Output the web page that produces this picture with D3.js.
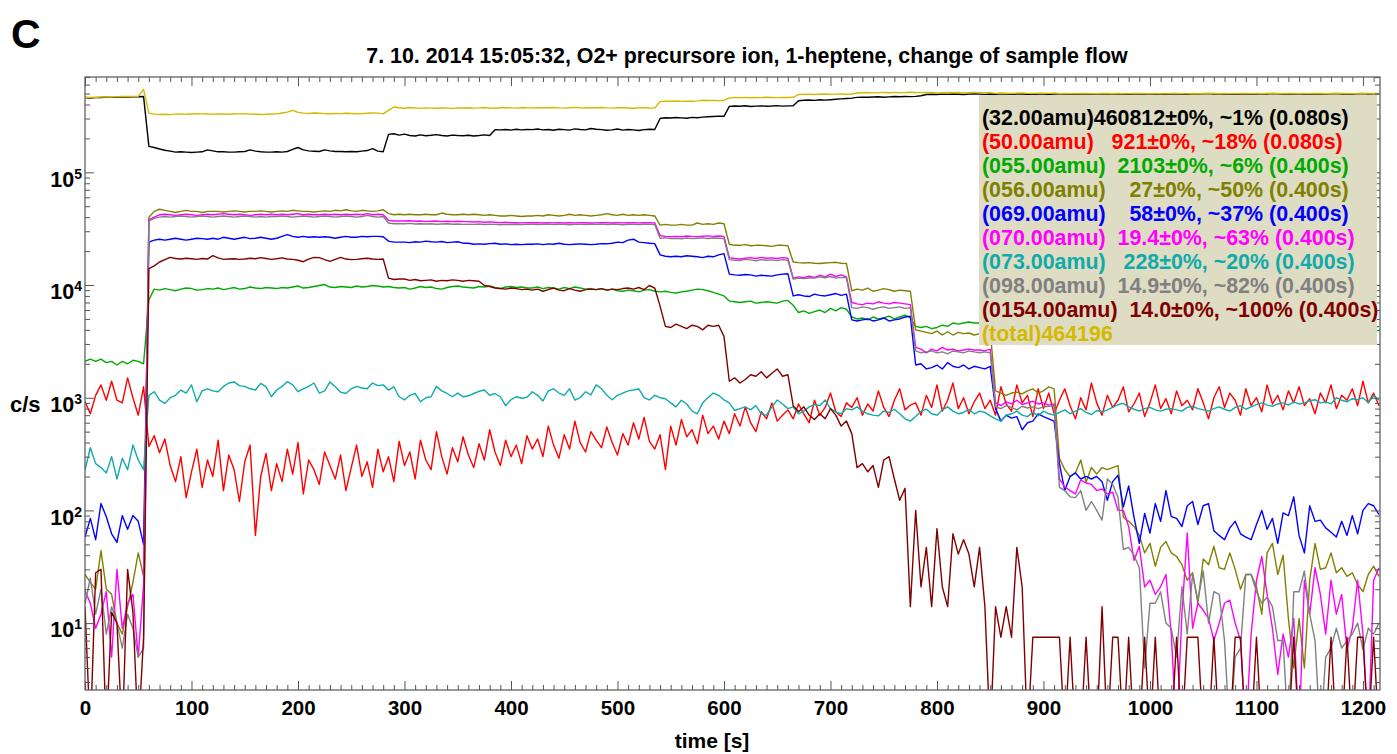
<!DOCTYPE html>
<html>
<head>
<meta charset="utf-8">
<script src="https://cdn.jsdelivr.net/npm/d3@7"></script>
<style>
  html, body { margin: 0; padding: 0; background: #fff; }
  svg { display: block; font-family: "Liberation Sans", Arial, Helvetica, sans-serif; font-weight: bold; }
</style>
</head>
<body>
<svg id="chart" width="1397" height="754"></svg>
<script>
// PTR-MS scan, one sample every 5 s (rows below = one minute each)
const SAMPLE_PERIOD_S = 5;

const mz32 = [
  460812, 457000, 460000, 461000, 463000, 462000, 465000, 466000, 466000, 468000, 468000, 470000,
  170000, 166000, 161000, 157000, 154000, 151000, 152000, 151000, 150000, 151000, 152000, 158000,
  155000, 152000, 152000, 151000, 151000, 152000, 153000, 158000, 154000, 152000, 151000, 151000,
  152000, 151000, 153000, 160000, 166000, 158000, 155000, 154000, 153000, 158000, 155000, 153000,
  153000, 152000, 153000, 152000, 154000, 156000, 162000, 154000, 152000, 217000, 220000, 214000,
  218000, 212000, 210000, 215000, 211000, 213000, 216000, 212000, 210000, 214000, 212000, 211000,
  213000, 210000, 212000, 215000, 212000, 239000, 238000, 240000, 237000, 241000, 238000, 240000,
  239000, 242000, 238000, 240000, 236000, 241000, 239000, 237000, 243000, 240000, 238000, 245000,
  241000, 239000, 236000, 238000, 242000, 237000, 240000, 238000, 235000, 239000, 241000, 240000,
  300000, 305000, 303000, 306000, 304000, 302000, 307000, 305000, 309000, 311000, 313000, 315000,
  314000, 385000, 388000, 386000, 390000, 384000, 387000, 389000, 386000, 388000, 391000, 387000,
  389000, 390000, 432000, 436000, 438000, 435000, 440000, 437000, 441000, 445000, 448000, 452000,
  455000, 462000, 465000, 463000, 466000, 468000, 464000, 467000, 470000, 468000, 471000, 469000,
  472000, 478000, 490000, 493000, 491000, 494000, 492000, 495000, 493000, 491000, 494000, 496000,
  494000, 492000, 495000, 493000, 497000, 494000, 492000, 495000, 496000, 493000, 491000, 494000,
  495000, 493000, 496000, 494000, 497000, 495000, 493000, 496000, 498000, 495000, 494000, 497000,
  496000, 494000, 497000, 495000, 493000, 496000, 498000, 495000, 494000, 497000, 495000, 493000,
  496000, 498000, 495000, 493000, 496000, 494000, 497000, 499000, 496000, 494000, 497000, 495000,
  493000, 496000, 498000, 495000, 497000, 494000, 496000, 499000, 497000, 495000, 498000, 496000,
  494000, 497000, 495000, 498000, 496000, 494000, 497000, 499000, 496000, 498000, 495000, 497000,
  499000, 496000, 498000, 497000
];

const mz50 = [
  921, 720, 1050, 1300, 950, 1400, 950, 900, 1500, 1000, 700, 1250,
  370, 460, 325, 430, 250, 180, 300, 130, 220, 350, 160, 280,
  200, 420, 150, 310, 230, 120, 270, 380, 60, 200, 320, 150,
  260, 180, 350, 210, 400, 140, 280, 230, 170, 330, 250, 190,
  310, 150, 240, 380, 200, 270, 160, 350, 220, 300, 180, 410,
  250, 330, 190, 420, 280, 230, 500, 300, 210, 360, 270, 450,
  310, 240, 390, 280, 520, 330, 250, 420, 300, 380, 260, 460,
  350, 430, 300, 560, 380, 290, 470, 350, 620, 400, 330, 500,
  420, 360, 550, 400, 310, 480, 380, 600, 430, 670, 410, 350,
  470, 230, 560, 380, 640, 450, 520, 390, 700, 480, 560, 430,
  620, 480, 720, 560, 830, 600, 500, 750, 650, 900, 620, 700,
  780, 650, 880, 720, 600, 950, 700, 820, 1100, 750, 680, 900,
  820, 1000, 700, 880, 760, 1150, 820, 680, 950, 1200, 780, 860,
  900, 700, 1050, 820, 1300, 760, 950, 1350, 800, 1000, 720, 920,
  1100, 800, 950, 700, 1250, 880, 760, 1300, 900, 1050, 680, 1200,
  800, 1100, 720, 950, 1200, 850, 650, 1000, 780, 1350, 900, 700,
  1050, 820, 950, 1250, 750, 880, 1100, 680, 900, 1300, 800, 980,
  720, 1150, 850, 950, 780, 1200, 900, 650, 1000, 1250, 820, 1100,
  950, 700, 1200, 850, 1000, 750, 1300, 880, 1050, 780, 1150, 900,
  1250, 850, 980, 720, 1100, 900, 1300, 800, 1050, 950, 1200, 850,
  1400, 900, 1100, 850
];

const mz55 = [
  2103, 2200, 2100, 2200, 2050, 2100, 1950, 2100, 2000, 2150, 2100, 2000,
  7400, 9200, 9000, 9300, 9100, 8900, 9200, 9400, 9300, 9000, 9100, 9300,
  9200, 9400, 9100, 9300, 9500, 9200, 9300, 9600, 9400, 9300, 9500, 9400,
  9300, 9500, 9400, 9600, 9800, 9400, 9500, 9700, 9900, 10100, 9600, 9500,
  9700, 9600, 9500, 9800, 9600, 9700, 9900, 9800, 9600, 9700, 9500, 9400,
  9500, 9200, 9400, 9700, 9500, 9600, 9300, 9200, 9500, 9700, 9800, 9600,
  9500, 9400, 9700, 9600, 9800, 9500, 9300, 9600, 9700, 9500, 9600, 9400,
  9400, 9600, 9300, 9500, 9400, 9200, 9500, 9300, 9600, 9400, 9200, 9300,
  9100, 9300, 9000, 9200, 8900, 8800, 9000, 8900, 8700, 9000, 9100, 8800,
  8700, 8800, 8600, 8500, 8700, 8800, 9000, 9200, 9100, 8900, 8600, 8300,
  8000, 7200, 7100, 7000, 7100, 7200, 6900, 7000, 7100, 7000, 6900, 7200,
  7300, 6600, 5700, 5900, 5600, 5800, 6000, 5700, 6200, 5900, 6300, 6100,
  5200, 5000, 5100, 4900, 5200, 5000, 5100, 5300, 5000, 5200, 5400, 5100,
  4300, 4200, 4300, 4100, 4200, 4400, 4300, 4600, 4500, 4600, 4700, 4600,
  4600, 4500, 4700, 4600, 4400, 4500, 4700, 4600, 4500, 4400, 4600, 4500,
  4400, 4500, 4300, 4400, 4600, 4500, 4300, 4200, 4400, 4500, 4300, 4400,
  4300, 4400, 4200, 4300, 4500, 4400, 4200, 4300, 4400, 4200, 4300, 4400,
  4200, 4300, 4400, 4200, 4300, 4100, 4300, 4400, 4200, 4300, 4200, 4100,
  4300, 4200, 4100, 4300, 4200, 4400, 4300, 4200, 4100, 4300, 4200, 4300,
  4200, 4100, 4300, 4200, 4400, 4300, 4200, 4100, 4300, 4200, 4300, 4200,
  4100, 4300, 4200, 4300
];

const mz56 = [
  27, 23, 20, 44, 20, 18, 10, 8, 14, 23, 42, 26,
  40000, 45000, 47000, 46000, 45000, 44000, 45000, 46000, 45000, 45000, 44000, 45000,
  45000, 45000, 44500, 45000, 45500, 45000, 44500, 45000, 45000, 45500, 45000, 44500,
  45000, 45500, 45000, 46000, 45500, 45000, 45000, 44500, 45000, 45500, 45000, 46000,
  45500, 46500, 45500, 45000, 46000, 45500, 45000, 45500, 46500, 43000, 42000, 42500,
  42000, 42500, 42000, 42000, 42500, 42000, 42000, 43500, 42500, 42000, 42000, 42500,
  42000, 42500, 42000, 41500, 42000, 41500, 41000, 41000, 41500, 41000, 40500, 41000,
  41000, 41500, 41000, 42000, 41500, 41000, 41500, 42500, 41500, 42000, 41500, 41000,
  41500, 42000, 43000, 42000, 41500, 42500, 41500, 42000, 41500, 42000, 41500, 41000,
  34000, 34500, 34000, 34000, 34500, 34000, 34000, 35500, 34500, 35000, 34500, 35500,
  35000, 23000, 22500, 22500, 22800, 22300, 22500, 22500, 22300, 22000, 22500, 22500,
  22300, 16000, 15800, 15700, 15800, 15600, 15500, 15700, 15800, 15900, 15600, 15500,
  8900, 9200, 9000, 9400, 8800, 9000, 9300, 9100, 8800, 9000, 8900, 8800,
  4000, 3900, 3800, 3700, 3900, 3600, 3850, 3600, 3800, 3700, 3750, 3600,
  3700, 3600, 3900, 1150, 1100, 1050, 1100, 1120, 1080, 1150, 1200, 1100,
  1150, 1250, 1200, 290, 230, 200, 215, 280, 178, 240, 210, 240,
  230, 240, 250, 87, 80, 72, 60, 42, 51, 32, 47, 53,
  42, 39, 33, 24, 28, 15, 37, 33, 48, 31, 30, 42,
  30, 20, 27, 27, 21, 12, 42, 51, 27, 40, 11, 4,
  11, 4, 24, 51, 30, 31, 42, 28, 31, 26, 28, 22,
  19, 27, 32, 26
];

const mz69 = [
  58, 85, 55, 115, 88, 62, 52, 90, 68, 90, 80, 50,
  24000, 25000, 25500, 25000, 25500, 26000, 25500, 25000, 25500, 26000, 25800, 25500,
  26000, 25500, 26500, 26000, 25500, 26000, 26500, 25800, 26000, 26500, 26000, 25500,
  26000, 27000, 28000, 27000, 26500, 27000, 26500, 26800, 26500, 26800, 26500, 26000,
  26500, 27000, 26500, 26500, 27000, 26800, 27000, 27000, 26800, 24500, 24000, 24000,
  24000, 23800, 24200, 24000, 24500, 24200, 24000, 24300, 23800, 24000, 24200, 23500,
  23500, 23000, 23200, 23000, 23300, 23500, 23000, 23200, 22800, 23000, 22800, 23000,
  23000, 23200, 22800, 23200, 23000, 23500, 23000, 22800, 23000, 23200, 23000, 22800,
  23000, 23300, 23200, 23500, 24000, 23800, 25000, 25500, 24000, 23800, 23500, 23300,
  18500, 18000, 17800, 18000, 17800, 18200, 18000, 17800, 17500, 18000, 17800, 18500,
  19000, 12500, 12300, 12200, 12400, 12300, 12000, 12200, 12100, 12000, 12300, 12500,
  12600, 8000, 8200, 8000, 7900, 8300, 8100, 8000, 8200, 8400, 8100, 8300,
  4900, 4800, 4900, 5000, 4800, 4900, 5100, 4800, 4900, 5000, 5200, 5300,
  1950, 2000, 1800, 1850, 1950, 1800, 2050, 1900, 1850, 1950, 1800, 1900,
  1850, 1800, 1900, 800, 620, 700, 660, 680, 520, 600, 620, 720,
  680, 650, 620, 260, 150, 200, 215, 190, 200, 190, 200, 180,
  123, 180, 205, 107, 165, 87, 51, 94, 63, 115, 80, 150,
  88, 85, 72, 110, 120, 75, 110, 115, 66, 60, 55, 70,
  80, 62, 58, 55, 75, 100, 68, 85, 51, 95, 90, 132,
  60, 42, 110, 80, 82, 70, 64, 58, 80, 60, 90, 62,
  100, 115, 110, 92
];

const mz70 = [
  19.4, 15, 9, 12, 19, 5, 30, 9, 15, 18, 5, 22,
  38000, 40000, 42000, 42500, 42000, 41500, 42000, 42500, 42000, 41500, 42000, 42500,
  42000, 42500, 43000, 42500, 42000, 42500, 42000, 41500, 42000, 42500, 42000, 42500,
  42000, 42500, 42000, 42500, 43000, 42000, 42500, 42000, 42000, 42500, 42000, 42500,
  42000, 42500, 42000, 42500, 42000, 43000, 42000, 42500, 42000, 37500, 37000, 37000,
  37000, 37200, 36800, 37000, 36500, 36800, 37000, 36500, 36800, 36500, 36800, 36500,
  36500, 36200, 36500, 36000, 36300, 36000, 35800, 36000, 35700, 35800, 35600, 35700,
  35700, 35800, 35500, 35700, 35600, 35800, 35500, 35700, 35600, 35800, 35700, 35500,
  35600, 35700, 35800, 35500, 35700, 35600, 35800, 35700, 35600, 35700, 35800, 35600,
  27500, 27000, 26800, 27000, 26800, 27200, 27000, 26900, 27100, 27300, 27000, 27200,
  27000, 17500, 17200, 17000, 17300, 17500, 17200, 17600, 17300, 17400, 17200, 17500,
  17300, 11500, 11800, 11600, 12000, 11700, 12200, 11800, 12500, 11900, 12300, 11800,
  7000, 6800, 6700, 6900, 6800, 7100, 6900, 6800, 7000, 6900, 6800, 6700,
  2800, 2700, 2500, 2700, 2600, 2800, 2650, 2700, 2600, 2650, 2700, 2650,
  2650, 2600, 2700, 900, 850, 920, 880, 950, 870, 900, 930, 880,
  900, 860, 880, 190, 162, 150, 140, 187, 175, 170, 150, 155,
  140, 145, 100, 100, 72, 36, 48, 21, 24, 18, 21, 27,
  8, 0, 12, 63, 9, 15, 13, 11, 7, 10, 15, 16,
  10, 7, 0, 8, 24, 39, 18, 9, 3.5, 8, 5, 11,
  0, 24, 12, 31, 18, 8, 24, 12, 18, 5.8, 9, 24,
  8, 0, 24, 31
];

const mz73 = [
  228, 360, 260, 240, 215, 300, 190, 290, 230, 380, 280, 230,
  1050, 1130, 950, 890, 1000, 1050, 1170, 1100, 1300, 920, 1150, 1200,
  1150, 1130, 1260, 1350, 1380, 1280, 1260, 1200, 1170, 1340, 1250, 1020,
  1170, 1260, 1390, 1300, 1130, 1200, 1260, 1350, 1100, 1150, 1380, 1250,
  1120, 1090, 1200, 1260, 1220, 1200, 1350, 1280, 1300, 1170, 1250, 1020,
  955, 1050, 1090, 920, 1000, 1020, 1260, 1150, 1090, 1020, 1100, 1020,
  1040, 1090, 1140, 1170, 1050, 1090, 1020, 850, 960, 1020, 990, 1010,
  1130, 1050, 935, 1150, 1200, 1100, 1050, 1200, 950, 1000, 1130, 1060,
  1300, 1200, 1050, 960, 1050, 1100, 1150, 1170, 1200, 1000, 955, 1050,
  1000, 980, 900, 830, 950, 880, 760, 720, 900, 1000, 1100, 1050,
  955, 900, 770, 800, 830, 780, 850, 720, 700, 830, 955, 880,
  800, 830, 720, 760, 830, 870, 850, 955, 800, 750, 720, 800,
  780, 830, 760, 720, 700, 690, 760, 740, 790, 720, 650, 620,
  680, 760, 790, 720, 700, 780, 830, 760, 720, 740, 790, 720,
  760, 740, 690, 650, 620, 700, 720, 760, 700, 680, 740, 690,
  760, 720, 700, 740, 780, 720, 760, 800, 740, 710, 770, 750,
  780, 820, 870, 890, 830, 790, 760, 800, 820, 780, 760, 790,
  800, 780, 760, 820, 840, 800, 780, 760, 800, 830, 790, 760,
  820, 850, 790, 830, 870, 900, 860, 840, 880, 900, 860, 920,
  880, 900, 940, 960, 900, 920, 880, 1000, 950, 920, 980, 960,
  1000, 900, 1050, 950
];

const mz98 = [
  14.9, 25, 12, 20, 8, 14, 10, 6, 12, 9, 5, 6,
  37000, 39000, 40000, 40500, 40000, 40500, 41000, 40500, 40000, 40500, 41000, 40500,
  40000, 40500, 41000, 40500, 40000, 40500, 41000, 40500, 40000, 40500, 40000, 40500,
  40500, 41000, 40500, 40000, 40500, 41000, 40500, 40000, 40500, 41000, 40500, 40000,
  40500, 41000, 40500, 40000, 40500, 41500, 40500, 40000, 40500, 35500, 35000, 35000,
  35000, 35200, 34800, 35000, 34800, 35000, 34600, 34800, 35000, 34600, 34800, 34500,
  34600, 34500, 34800, 34400, 34600, 34500, 34300, 34500, 34400, 34600, 34400, 34500,
  34600, 34400, 34500, 34700, 34400, 34600, 34500, 34300, 34600, 34500, 34400, 34600,
  34500, 34700, 34400, 34600, 34500, 34300, 34600, 34500, 34400, 34600, 34500, 34400,
  26000, 26200, 25800, 26000, 25700, 26100, 25800, 26000, 26200, 25900, 26100, 26000,
  25800, 16800, 16600, 16500, 16900, 16700, 16400, 16800, 16600, 16700, 16500, 16800,
  16600, 11300, 11500, 11400, 11600, 11500, 11800, 11600, 11900, 11500, 11700, 11600,
  6300, 6200, 6400, 6300, 6100, 6300, 6400, 6200, 6300, 6400, 6200, 6300,
  2600, 2500, 2550, 2600, 2500, 2550, 2450, 2600, 2550, 2500, 2600, 2550,
  2500, 2550, 2500, 830, 800, 850, 820, 780, 840, 810, 830, 800,
  830, 840, 850, 160, 150, 132, 130, 150, 100, 120, 100, 82,
  190, 170, 130, 45, 47, 40, 31, 4, 15, 15, 19, 10,
  9, 5, 21, 8, 27, 16, 29, 10, 19, 18, 7, 0,
  5, 6, 27, 27, 19, 15, 17, 14, 7, 7, 0, 19,
  19, 29, 12, 7, 0, 5, 6, 9, 6, 7, 8, 10,
  5.8, 9, 8, 10
];

const mz154 = [
  14.0, 0, 28, 30, 0, 12.5, 10, 0, 30, 12.5, 0, 7.5,
  14000, 14800, 16000, 16800, 17600, 17200, 17000, 17300, 17100, 16900, 17200, 17000,
  18200, 17400, 16900, 17000, 17100, 16900, 17000, 17300, 17100, 17500, 17200, 16900,
  17100, 17400, 17000, 16900, 16600, 16100, 17000, 17600, 17500, 16800, 16200, 16900,
  17600, 17000, 16800, 16900, 17100, 17300, 17000, 16900, 17000, 11500, 11200, 11300,
  11300, 11000, 11200, 10900, 11000, 11100, 10800, 11000, 10900, 11100, 11000, 10800,
  11000, 10900, 10800, 9900, 9700, 9400, 9300, 9200, 9400, 9300, 9100, 9200,
  9000, 9200, 8800, 9100, 9400, 9000, 8900, 9300, 9000, 8800, 9100, 9200,
  9100, 9300, 9000, 9200, 9100, 9300, 9400, 9200, 9500, 9100, 9900, 9400,
  6500, 4300, 4200, 4500, 4300, 4100, 4400, 4300, 4000, 4400, 4300, 4400,
  3500, 1400, 1500, 1350, 1450, 1600, 1550, 1700, 1500, 1650, 1800, 1550,
  1600, 850, 750, 830, 700, 640, 720, 650, 800, 700, 560, 620,
  480, 240, 260, 220, 250, 160, 280, 300, 190, 123, 157, 14,
  100, 21, 47, 14, 69, 21, 14, 62, 41, 55, 41, 21,
  47, 14, 0, 14, 7.5, 14, 7.5, 47, 21, 0, 7.5, 7.5,
  7.5, 7.5, 7.5, 7.5, 0, 7.5, 0, 0, 7.5, 0, 0, 14,
  0, 7.5, 7.5, 0, 7.5, 0, 0, 7.5, 0, 7.5, 0, 0,
  0, 7.5, 0, 7.5, 7.5, 7.5, 0, 0, 7.5, 0, 0, 0,
  7.5, 7.5, 0, 0, 7.5, 0, 0, 0, 0, 0, 0, 7.5,
  0, 0, 0, 0, 0, 0, 7.5, 0, 0, 7.5, 0, 7.5,
  7.5, 0, 7.5, 0
];

const totalCounts = [
  464196, 461000, 464000, 465000, 467000, 466000, 469000, 470000, 470000, 472000, 472000, 545000,
  335000, 328000, 326000, 327000, 325000, 328000, 330000, 327000, 329000, 331000, 330000, 329000,
  328000, 330000, 329000, 327000, 331000, 330000, 332000, 328000, 327000, 326000, 327000, 329000,
  330000, 336000, 342000, 354000, 340000, 335000, 333000, 336000, 334000, 332000, 331000, 333000,
  332000, 334000, 333000, 331000, 332000, 334000, 336000, 335000, 330000, 355000, 380000, 374000,
  370000, 376000, 372000, 369000, 373000, 371000, 370000, 372000, 371000, 369000, 373000, 372000,
  374000, 371000, 373000, 376000, 372000, 370000, 374000, 375000, 373000, 371000, 376000, 374000,
  373000, 375000, 372000, 374000, 376000, 373000, 371000, 374000, 377000, 374000, 372000, 375000,
  374000, 376000, 373000, 371000, 375000, 374000, 372000, 370000, 373000, 375000, 372000, 371000,
  425000, 428000, 427000, 429000, 426000, 428000, 427000, 430000, 436000, 434000, 435000, 433000,
  434000, 458000, 461000, 460000, 462000, 459000, 461000, 460000, 463000, 461000, 460000, 462000,
  461000, 463000, 490000, 492000, 494000, 491000, 493000, 495000, 492000, 494000, 496000, 493000,
  495000, 505000, 508000, 510000, 507000, 509000, 511000, 508000, 512000, 509000, 510000, 513000,
  511000, 509000, 512000, 510000, 506000, 509000, 511000, 508000, 510000, 507000, 509000, 511000,
  509000, 507000, 510000, 502000, 505000, 503000, 501000, 504000, 505000, 502000, 500000, 503000,
  504000, 502000, 505000, 498000, 501000, 499000, 497000, 500000, 502000, 499000, 498000, 501000,
  500000, 498000, 501000, 499000, 497000, 500000, 502000, 499000, 498000, 501000, 499000, 497000,
  500000, 502000, 499000, 497000, 500000, 498000, 501000, 503000, 500000, 498000, 501000, 499000,
  497000, 500000, 502000, 499000, 501000, 498000, 500000, 503000, 501000, 499000, 502000, 500000,
  498000, 501000, 499000, 502000, 500000, 498000, 501000, 503000, 500000, 502000, 499000, 501000,
  503000, 500000, 502000, 501000
];

// legend readout, one entry per trace (same order as the traces)
const legendTexts = [
  "(32.00amu)460812\u00b10%, ~1% (0.080s)",
  "(50.00amu)   921\u00b10%, ~18% (0.080s)",
  "(055.00amu)  2103\u00b10%, ~6% (0.400s)",
  "(056.00amu)    27\u00b10%, ~50% (0.400s)",
  "(069.00amu)    58\u00b10%, ~37% (0.400s)",
  "(070.00amu)  19.4\u00b10%, ~63% (0.400s)",
  "(073.00amu)   228\u00b10%, ~20% (0.400s)",
  "(098.00amu)  14.9\u00b10%, ~82% (0.400s)",
  "(0154.00amu)  14.0\u00b10%, ~100% (0.400s)",
  "(total)464196"
];

const xTickValues = [0, 100, 200, 300, 400, 500, 600, 700, 800, 900, 1000, 1100, 1200];
const yDecadeExponents = [1, 2, 3, 4, 5];

const titleText = "7. 10. 2014 15:05:32, O2+ precursore ion, 1-heptene, change of sample flow";
const panelLetter = "C";
const xAxisTitle = "time [s]";
const yAxisTitle = "c/s";

// ---- drawing ----
const traceColors = ["#000000", "#ff0000", "#00aa00", "#808000", "#0000ff",
                     "#ff00ff", "#11aaaa", "#808080", "#800000", "#d4b900"];
const traces = [mz32, mz50, mz55, mz56, mz69, mz70, mz73, mz98, mz154, totalCounts]
  .map((values, i) => ({ values, color: traceColors[i], label: legendTexts[i] }));

const plot = { left: 85, right: 1380, top: 77, bottom: 690 };
const svg = d3.select("#chart");

svg.append("rect").attr("width", 1397).attr("height", 754).attr("fill", "#fff");

const x = d3.scaleLinear().domain([0, 1216]).range([plot.left, plot.right]);
const y = d3.scaleLog().domain([2.55, 7.01e5]).range([plot.bottom, plot.top]);

svg.append("defs").append("clipPath").attr("id", "plotClip")
  .append("rect")
  .attr("x", plot.left).attr("y", plot.top)
  .attr("width", plot.right - plot.left).attr("height", plot.bottom - plot.top);

// traces (zero counts fall below the axis and are clipped)
const line = d3.line()
  .x((d, i) => x(i * SAMPLE_PERIOD_S))
  .y(d => y(Math.max(d, 1)));

const traceLayer = svg.append("g").attr("clip-path", "url(#plotClip)");
traceLayer.selectAll("path")
  .data(traces)
  .join("path")
  .attr("d", d => line(d.values))
  .attr("fill", "none")
  .attr("stroke", d => d.color)
  .attr("stroke-width", 1.4)
  .attr("stroke-linejoin", "round");

// tick marks, all pointing into the plot
const minorX = d3.range(0, 1216, 10).filter(v => v % 100 !== 0);
const majorY = yDecadeExponents.map(e => Math.pow(10, e));
const minorY = [];
for (let e = 0; e <= 5; e++) {
  for (let m = 2; m <= 9; m++) {
    const v = m * Math.pow(10, e);
    if (v >= 2.55 && v <= 7.01e5) minorY.push(v);
  }
}

function tickGroup(axis, tx, ty) {
  const g = svg.append("g").attr("transform", `translate(${tx},${ty})`).call(axis);
  g.select(".domain").remove();
  g.selectAll(".tick line").attr("stroke", "#555").attr("stroke-width", 1);
  return g;
}

tickGroup(d3.axisBottom(x).tickValues(minorX).tickSize(-5).tickSizeOuter(0).tickFormat(""), 0, plot.bottom);
tickGroup(d3.axisTop(x).tickValues(minorX).tickSize(-5).tickSizeOuter(0).tickFormat(""), 0, plot.top);
tickGroup(d3.axisTop(x).tickValues(xTickValues).tickSize(-9).tickSizeOuter(0).tickFormat(""), 0, plot.top);
const xAxis = tickGroup(d3.axisBottom(x).tickValues(xTickValues).tickSize(-9).tickSizeOuter(0).tickFormat(d3.format("d")), 0, plot.bottom);
xAxis.attr("font-family", null).attr("font-size", null);
xAxis.selectAll(".tick text")
  .attr("y", 25).attr("dy", 0)
  .attr("fill", "#000")
  .style("font-size", "20.5px")
  .style("font-weight", "bold");

tickGroup(d3.axisLeft(y).tickValues(minorY).tickSize(-5).tickSizeOuter(0).tickFormat(""), plot.left, 0);
tickGroup(d3.axisLeft(y).tickValues(majorY).tickSize(-9).tickSizeOuter(0).tickFormat(""), plot.left, 0);
tickGroup(d3.axisRight(y).tickValues(minorY).tickSize(-5).tickSizeOuter(0).tickFormat(""), plot.right, 0);
tickGroup(d3.axisRight(y).tickValues(majorY).tickSize(-9).tickSizeOuter(0).tickFormat(""), plot.right, 0);

// frame
svg.append("rect")
  .attr("x", plot.left).attr("y", plot.top)
  .attr("width", plot.right - plot.left).attr("height", plot.bottom - plot.top)
  .attr("fill", "none").attr("stroke", "#555").attr("stroke-width", 1.2);

// decade labels 10^n
const yLabels = svg.append("g");
yDecadeExponents.forEach(e => {
  const t = yLabels.append("text")
    .attr("x", 82)
    .attr("y", y(Math.pow(10, e)) + 14.3)
    .attr("text-anchor", "end")
    .attr("fill", "#000");
  t.append("tspan").style("font-size", "21.5px").text("10");
  t.append("tspan").attr("dy", -8).style("font-size", "14px").text(String(e));
});

svg.append("text")
  .attr("x", 10).attr("y", y(1000) + 14.3)
  .style("font-size", "22px")
  .text(yAxisTitle);

svg.append("text")
  .attr("x", 712).attr("y", 748)
  .attr("text-anchor", "middle")
  .style("font-size", "21px")
  .text(xAxisTitle);

svg.append("text")
  .attr("x", 747).attr("y", 63)
  .attr("text-anchor", "middle")
  .style("font-size", "21.4px")
  .text(titleText);

svg.append("text")
  .attr("x", 11).attr("y", 48)
  .style("font-size", "41px")
  .text(panelLetter);

// legend readout box
const legend = svg.append("g");
legend.append("rect")
  .attr("x", 979).attr("y", 95)
  .attr("width", 398).attr("height", 250)
  .attr("fill", "#dedcc3");
legend.selectAll("text")
  .data(traces)
  .join("text")
  .attr("x", 982)
  .attr("y", (d, i) => 125 + i * 24)
  .attr("fill", d => d.color)
  .style("font-size", "21.4px")
  .style("white-space", "pre")
  .text(d => d.label);
</script>
</body>
</html>
